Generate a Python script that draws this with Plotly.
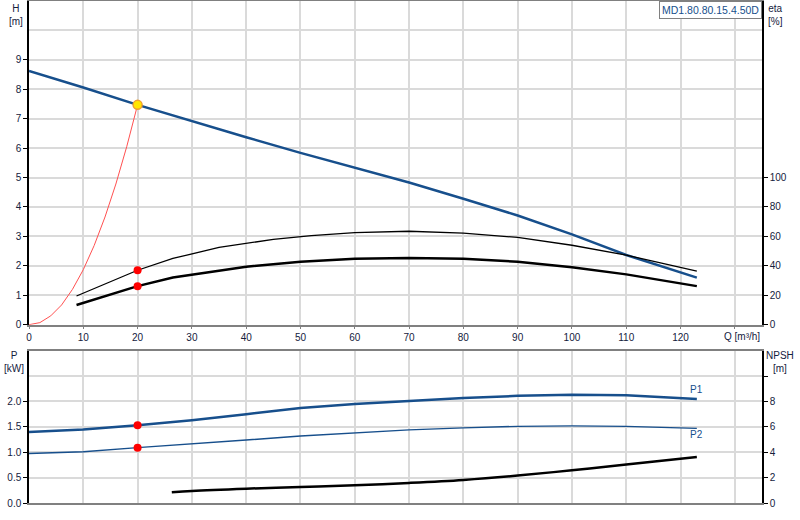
import plotly.graph_objects as go

# pump curve data
q_head = [0, 10, 20, 30, 40, 50, 60, 70, 80, 90, 100, 110, 123]
head = [8.62, 8.06, 7.47, 6.91, 6.37, 5.84, 5.33, 4.83, 4.28, 3.71, 3.07, 2.37, 1.60]

q_system = [0, 2, 4, 6, 8, 10, 12, 14, 16, 18, 20]
h_system = [0, 0.07, 0.30, 0.67, 1.20, 1.87, 2.69, 3.66, 4.78, 6.05, 7.47]

q_eta1 = [8.75, 20, 26.5, 35, 45, 52, 60, 70, 80, 90, 100, 110, 123]
eta1 = [19.5, 37.0, 45.0, 52.5, 58.0, 60.6, 62.6, 63.5, 62.2, 59.3, 54.0, 47.3, 36.4]

q_eta2 = [8.75, 20, 26.5, 35, 40, 50, 60, 70, 80, 90, 100, 110, 123]
eta2 = [13.4, 26.2, 32.1, 37.0, 39.4, 42.8, 44.8, 45.4, 44.8, 42.8, 39.0, 34.2, 26.2]

q_power = [0, 10, 20, 30, 40, 50, 60, 70, 80, 90, 100, 110, 123]
p1 = [1.40, 1.45, 1.53, 1.63, 1.75, 1.87, 1.95, 2.01, 2.07, 2.11, 2.13, 2.12, 2.05]
p2 = [0.975, 1.01, 1.09, 1.16, 1.24, 1.32, 1.38, 1.44, 1.48, 1.51, 1.52, 1.51, 1.47]

q_npsh = [26.3, 30, 40, 50, 60, 70, 80, 90, 100, 110, 123]
npsh = [0.84, 0.95, 1.13, 1.26, 1.39, 1.58, 1.82, 2.16, 2.58, 3.03, 3.63]

duty_q = 20
duty_h = 7.47
duty_eta = [37.0, 26.2]
duty_p = [1.53, 1.09]

x_ticks = [0, 10, 20, 30, 40, 50, 60, 70, 80, 90, 100, 110, 120, 130]
h_ticks = [0, 1, 2, 3, 4, 5, 6, 7, 8, 9]
eta_ticks = [0, 20, 40, 60, 80, 100]
p_ticks = [0, 0.5, 1.0, 1.5, 2.0]
npsh_ticks = [0, 2, 4, 6, 8, 10]

BLUE = "#174f8c"
TXT = "#14213d"
GRID = "#dadada"
FONT = "Liberation Sans"

fig = go.Figure()

fig.add_trace(go.Scatter(x=q_system, y=h_system, mode="lines",
                         line=dict(color="#ff5050", width=1), xaxis="x", yaxis="y"))
fig.add_trace(go.Scatter(x=q_head, y=head, mode="lines",
                         line=dict(color=BLUE, width=2.5), xaxis="x", yaxis="y"))
fig.add_trace(go.Scatter(x=q_eta1, y=eta1, mode="lines",
                         line=dict(color="black", width=1.3), xaxis="x", yaxis="y2"))
fig.add_trace(go.Scatter(x=q_eta2, y=eta2, mode="lines",
                         line=dict(color="black", width=2.5), xaxis="x", yaxis="y2"))
fig.add_trace(go.Scatter(x=[duty_q, duty_q], y=duty_eta, mode="markers",
                         marker=dict(color="#ff0000", size=8), xaxis="x", yaxis="y2"))
fig.add_trace(go.Scatter(x=[duty_q], y=[duty_h], mode="markers",
                         marker=dict(color="#ffe600", size=9, line=dict(color="#f0a030", width=1.5)),
                         xaxis="x", yaxis="y"))

fig.add_trace(go.Scatter(x=q_power, y=p1, mode="lines",
                         line=dict(color=BLUE, width=2.5), xaxis="x2", yaxis="y3"))
fig.add_trace(go.Scatter(x=q_power, y=p2, mode="lines",
                         line=dict(color=BLUE, width=1.4), xaxis="x2", yaxis="y3"))
fig.add_trace(go.Scatter(x=q_npsh, y=npsh, mode="lines", line_shape="spline",
                         line=dict(color="black", width=2.5), xaxis="x2", yaxis="y4"))
fig.add_trace(go.Scatter(x=[duty_q, duty_q], y=duty_p, mode="markers",
                         marker=dict(color="#ff0000", size=8), xaxis="x2", yaxis="y3"))

top_dom = [0.3552, 1.0]
bot_dom = [0.0, 0.3034]
tickfont = dict(family=FONT, size=10, color=TXT)

fig.update_layout(
    width=800, height=520,
    margin=dict(l=29, r=38, t=1, b=17),
    paper_bgcolor="white", plot_bgcolor="white",
    showlegend=False,
    font=dict(family=FONT, size=10, color=TXT),
    xaxis=dict(domain=[0, 1], range=[0, 135], tickvals=x_ticks,
               ticktext=[str(v) for v in x_ticks[:-1]] + [""],
               showgrid=True, gridcolor=GRID, gridwidth=1.5, zeroline=False,
               showline=True, linecolor="#808080", linewidth=1.5, mirror=True,
               ticks="outside", ticklen=3, tickcolor="#808080", tickfont=tickfont,
               anchor="y", automargin=False),
    yaxis=dict(domain=top_dom, range=[0, 11], tickvals=h_ticks,
               showgrid=True, gridcolor=GRID, gridwidth=1.5, zeroline=False,
               minor=dict(tickvals=[10], showgrid=True, gridcolor=GRID, gridwidth=1.5, ticks=""),
               showline=True, linecolor="black", linewidth=1.5,
               ticks="outside", ticklen=4, tickcolor="black", tickfont=tickfont,
               anchor="x", automargin=False),
    yaxis2=dict(overlaying="y", side="right", range=[0, 220], tickvals=eta_ticks,
                showgrid=False, zeroline=False,
                showline=True, linecolor="black", linewidth=1.5,
                ticks="outside", ticklen=4, tickcolor="black", tickfont=tickfont,
                anchor="x", automargin=False),
    xaxis2=dict(domain=[0, 1], range=[0, 135], tickvals=x_ticks, showticklabels=False,
                showgrid=True, gridcolor=GRID, gridwidth=1.5, zeroline=False,
                showline=True, linecolor="#808080", linewidth=1.5, mirror=True,
                ticks="", anchor="y3", automargin=False),
    yaxis3=dict(domain=bot_dom, range=[0, 3], tickvals=p_ticks, tickformat=".1f",
                showgrid=True, gridcolor=GRID, gridwidth=1.5, zeroline=False,
                minor=dict(tickvals=[2.5], showgrid=True, gridcolor=GRID, gridwidth=1.5, ticks=""),
                showline=True, linecolor="black", linewidth=1.5,
                ticks="outside", ticklen=4, tickcolor="black", tickfont=tickfont,
                anchor="x2", automargin=False),
    yaxis4=dict(overlaying="y3", side="right", range=[0, 12], tickvals=npsh_ticks,
                ticktext=[str(v) for v in npsh_ticks[:-1]] + [""],
                showgrid=False, zeroline=False,
                showline=True, linecolor="black", linewidth=1.5,
                ticks="outside", ticklen=4, tickcolor="black", tickfont=tickfont,
                anchor="x2", automargin=False),
)

ann_font = dict(family=FONT, size=10, color=TXT)
fig.add_annotation(text="H<br>[m]", xref="paper", yref="paper", x=-0.018, y=1.0,
                   xanchor="center", yanchor="top", showarrow=False, font=ann_font)
fig.add_annotation(text="eta<br>[%]", xref="paper", yref="paper", x=1.018, y=1.0,
                   xanchor="center", yanchor="top", showarrow=False, font=ann_font)
fig.add_annotation(text="P<br>[kW]", xref="paper", yref="paper", x=-0.02, y=0.308,
                   xanchor="center", yanchor="top", showarrow=False, font=ann_font)
fig.add_annotation(text="NPSH<br>[m]", xref="paper", yref="paper", x=1.025, y=0.308,
                   xanchor="center", yanchor="top", showarrow=False, font=ann_font)
fig.add_annotation(text="Q [m³/h]", xref="x", yref="paper", x=131.3, y=0.3552,
                   xanchor="center", yanchor="top", yshift=-4, showarrow=False, font=ann_font)
fig.add_annotation(text="P1", xref="x2", yref="y3", x=123, y=2.24,
                   showarrow=False, font=dict(family=FONT, size=10, color=BLUE))
fig.add_annotation(text="P2", xref="x2", yref="y3", x=123, y=1.34,
                   showarrow=False, font=dict(family=FONT, size=10, color=BLUE))
fig.add_annotation(text="MD1.80.80.15.4.50D", xref="paper", yref="paper", x=1.0, y=1.0,
                   xanchor="right", yanchor="top", showarrow=False,
                   font=dict(family=FONT, size=10.5, color=BLUE),
                   bgcolor="white", bordercolor="#808080", borderwidth=1, borderpad=2)

# the page body has a default 8px margin; drop it so the chart sits at the window corner
fig.write_html("out.html", config={"displayModeBar": False},
               post_script="document.body.style.margin='0';")
